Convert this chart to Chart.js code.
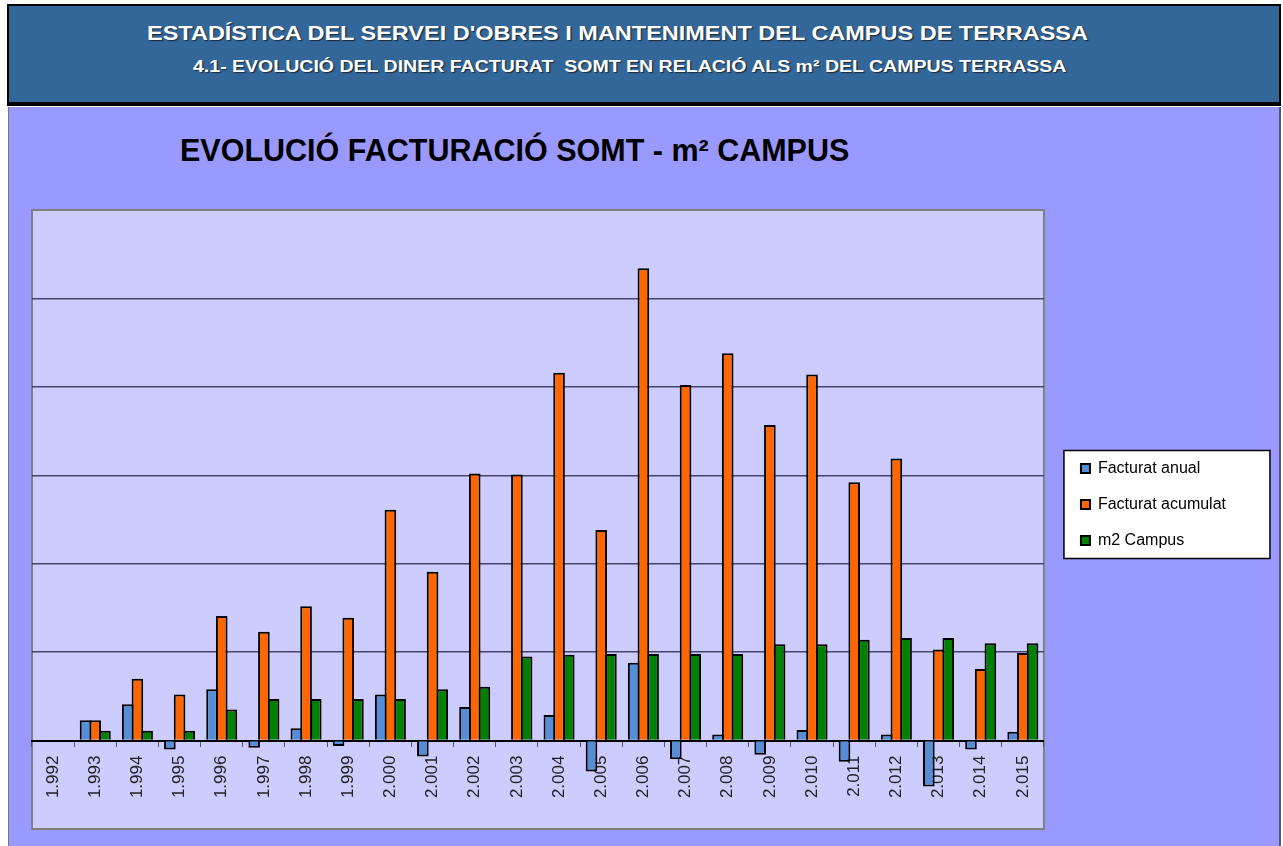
<!DOCTYPE html>
<html>
<head>
<meta charset="utf-8">
<script src="https://cdn.jsdelivr.net/npm/chart.js@4.4.0/dist/chart.umd.min.js"></script>
<style>
  body { margin: 0; background: #fff; font-family: 'Liberation Sans', Arial, sans-serif; }
  #header {
    position: absolute; left: 7px; top: 4px; width: 1270px; height: 96px;
    background: #336699; border: 2px solid #000; border-bottom-width: 4px;
    color: #fff; font-weight: bold; text-shadow: 1px 1px 1px #1a2a3a;
  }
  #h1 { position: absolute; left: 138px; top: 16px; font-size: 20px; white-space: nowrap;
        transform: scaleX(1.174); transform-origin: 0 0; }
  #h2 { position: absolute; left: 184px; top: 52px; font-size: 16px; white-space: nowrap;
        transform: scaleX(1.22); transform-origin: 0 0; }
  #panel {
    position: absolute; left: 8px; top: 107px; width: 1270px; height: 739px;
    background: #9999ff; border-left: 1px solid #777; border-right: 2px solid #55557a;
  }
  #title {
    position: absolute; left: 171px; top: 26px; font-size: 30.5px; font-weight: bold;
    color: #000; white-space: nowrap;
  }
  canvas { position: absolute; left: 0; top: 0; }
</style>
</head>
<body>
<div id="header">
  <div id="h1">ESTADÍSTICA DEL SERVEI D'OBRES I MANTENIMENT DEL CAMPUS DE TERRASSA</div>
  <div id="h2">4.1- EVOLUCIÓ DEL DINER FACTURAT&nbsp; SOMT EN RELACIÓ ALS m² DEL CAMPUS TERRASSA</div>
</div>
<div id="panel">
  <div id="title">EVOLUCIÓ FACTURACIÓ SOMT - m² CAMPUS</div>
  <canvas id="somtChart" width="1270" height="739"></canvas>
</div>
<script>
// anys (etiquetes de l'eix x)
const years = ['1.992', '1.993', '1.994', '1.995', '1.996', '1.997', '1.998', '1.999', '2.000', '2.001', '2.002', '2.003',
  '2.004', '2.005', '2.006', '2.007', '2.008', '2.009', '2.010', '2.011', '2.012', '2.013', '2.014', '2.015'];

// valors llegits del grafic (en unitats de la graella)
const facturatAnual = [0, 0.23, 0.41, -0.10, 0.58, -0.08, 0.14, -0.06, 0.52, -0.18, 0.38, 0,
  0.29, -0.35, 0.88, -0.21, 0.07, -0.16, 0.12, -0.24, 0.07, -0.52, -0.10, 0.10];
const facturatAcumulat = [0, 0.23, 0.70, 0.52, 1.41, 1.23, 1.52, 1.39, 2.61, 1.91, 3.02, 3.01,
  4.16, 2.38, 5.34, 4.02, 4.38, 3.57, 4.14, 2.92, 3.19, 1.03, 0.81, 0.99];
const m2Campus = [0, 0.11, 0.11, 0.11, 0.35, 0.47, 0.47, 0.47, 0.47, 0.58, 0.61, 0.95,
  0.97, 0.98, 0.98, 0.98, 0.98, 1.09, 1.09, 1.14, 1.16, 1.16, 1.10, 1.10];

const yMin = -1, yMax = 6, yStep = 1;

// fons de l'area del grafic i caixa de la llegenda
const panelPlugin = {
  id: 'panel',
  afterLayout(chart) {
    const lg = chart.legend;
    lg.left += 17; lg.right += 17;
    lg.top -= 15; lg.bottom -= 15;
  },
  beforeDraw(chart) {
    const { ctx, chartArea: a } = chart;
    ctx.save();
    ctx.fillStyle = '#ccccff';
    ctx.fillRect(a.left, a.top, a.right - a.left, a.bottom - a.top);
    ctx.strokeStyle = '#808080';
    ctx.lineWidth = 2;
    ctx.strokeRect(a.left, a.top, a.right - a.left, a.bottom - a.top);
    const lg = chart.legend;
    const cy = (lg.top + lg.bottom) / 2;
    ctx.fillStyle = '#fff';
    ctx.fillRect(lg.left + 3, cy - 54, 206, 108);
    ctx.strokeStyle = '#000';
    ctx.lineWidth = 1.5;
    ctx.strokeRect(lg.left + 3, cy - 54, 206, 108);
    ctx.restore();
  }
};

const ctx = document.getElementById('somtChart').getContext('2d');
const somtChart = new Chart(ctx, {
  type: 'bar',
  data: {
    labels: years,
    datasets: [
      { label: 'Facturat anual', data: facturatAnual, backgroundColor: '#558ed5', borderColor: '#000', borderWidth: 2 },
      { label: 'Facturat acumulat', data: facturatAcumulat, backgroundColor: '#ff6600', borderColor: '#000', borderWidth: 2 },
      { label: 'm2 Campus', data: m2Campus, backgroundColor: '#008000', borderColor: '#000', borderWidth: 2 }
    ]
  },
  options: {
    responsive: false,
    animation: false,
    categoryPercentage: 0.69,
    barPercentage: 1.2,
    layout: { padding: { left: 23, top: 103, bottom: 17, right: 60 } },
    plugins: {
      tooltip: { enabled: false },
      legend: {
        position: 'right',
        maxWidth: 180,
        labels: {
          boxWidth: 9, boxHeight: 9, padding: 20, color: '#000',
          font: { family: "'Liberation Sans', Arial, sans-serif", size: 16 }
        }
      }
    },
    scales: {
      x: {
        position: { y: 0 },
        offset: true,
        grid: { drawOnChartArea: false, tickLength: 5, color: '#555' },
        border: { color: '#000', width: 2 },
        ticks: {
          autoSkip: false, minRotation: 90, maxRotation: 90, padding: 10, color: '#222',
          font: { family: "'Liberation Sans', Arial, sans-serif", size: 17 }
        }
      },
      y: {
        min: yMin, max: yMax,
        ticks: { display: false, stepSize: yStep },
        border: { display: false },
        grid: {
          drawTicks: false,
          lineWidth: 1.5,
          color: (c) => (c.tick.value === 0 || c.tick.value === yMin || c.tick.value === yMax) ? 'rgba(0,0,0,0)' : '#45456a'
        }
      }
    }
  },
  plugins: [panelPlugin]
});
</script>
</body>
</html>
